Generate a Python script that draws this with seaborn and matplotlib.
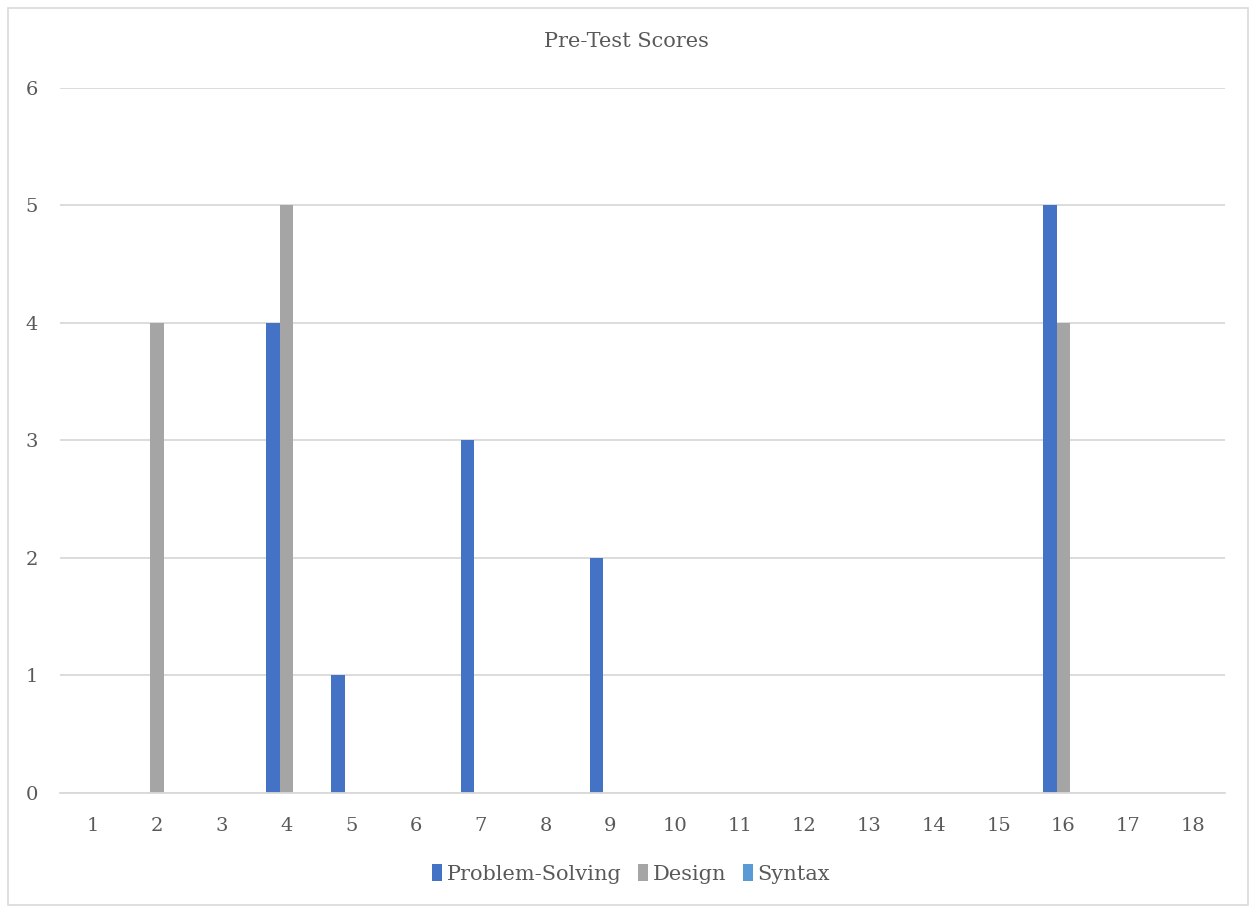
import numpy as np
import matplotlib.pyplot as plt
import seaborn as sns
import pandas as pd
from matplotlib.patches import Rectangle

# dados do gráfico
categorias = [str(i) for i in range(1, 19)]
problem_solving = [0, 0, 0, 4, 1, 0, 3, 0, 2, 0, 0, 0, 0, 0, 0, 5, 0, 0]
design = [0, 4, 0, 5, 0, 0, 0, 0, 0, 0, 0, 0, 0, 0, 0, 4, 0, 0]
syntax = [0] * 18
series = ["Problem-Solving", "Design", "Syntax"]
cores = ["#4472C4", "#A5A5A5", "#5B9BD5"]

df = pd.DataFrame({
    "cat": categorias * 3,
    "valor": problem_solving + design + syntax,
    "serie": [s for s in series for _ in categorias],
})

sns.set_theme(style="white")
plt.rcParams["font.family"] = ["DejaVu Serif"]
texto = "#595959"

fig = plt.figure(figsize=(12.53, 9.08), dpi=100)
ax = fig.add_axes([0.0479, 0.1267, 0.9298, 0.7764])

sns.barplot(data=df, x="cat", y="valor", hue="serie", hue_order=series,
            palette=cores, saturation=1, width=0.62, linewidth=0, ax=ax,
            legend=True)

ax.set_ylim(0, 6)
ax.set_xlim(-0.5, 17.5)
ax.set_yticks(range(0, 7))
ax.yaxis.grid(True, color="#D9D9D9", linewidth=1.3)
ax.set_axisbelow(True)
for lado in ["top", "right", "left"]:
    ax.spines[lado].set_visible(False)
ax.spines["bottom"].set_color("#D9D9D9")
ax.spines["bottom"].set_linewidth(1.3)
ax.tick_params(axis="both", length=0, labelsize=14, colors=texto)
ax.tick_params(axis="y", pad=16)
ax.tick_params(axis="x", pad=17)
ax.set_xlabel("")
ax.set_ylabel("")

fig.text(0.5, 0.954, "Pre-Test Scores", ha="center", va="center",
         fontsize=15, color=texto)

ax.legend(loc="center", bbox_to_anchor=(0.49, -0.115), ncol=3, frameon=False,
          fontsize=15, labelcolor=texto, handlelength=0.5, handleheight=0.9,
          handletextpad=0.2, columnspacing=0.8)

fig.patches.append(Rectangle((0.006, 0.003), 0.99, 0.988, transform=fig.transFigure,
                             fill=False, edgecolor="#D9D9D9", linewidth=1.2))

fig.savefig("out.png", dpi=100)
